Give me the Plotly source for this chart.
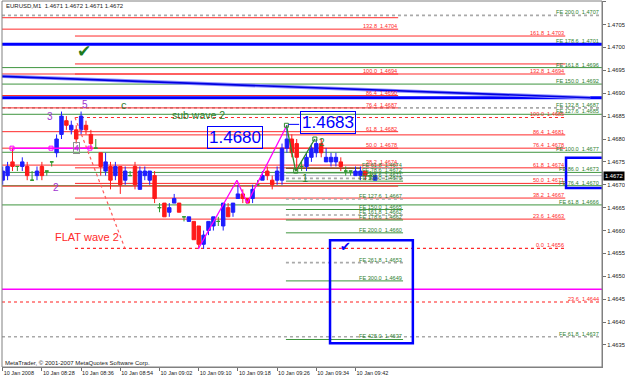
import plotly.graph_objects as go

# ------------------------------------------------------------------ data
bars = list(range(77))
open_ = [1.4671, 1.4672, 1.4675, 1.4674, 1.4674, 1.4674, 1.4671, 1.4672, 1.4674, 1.4673,
         1.4675, 1.4677, 1.4681, 1.4684, 1.4682, 1.4682, 1.4682, 1.4683, 1.4681, 1.4678,
         1.4677, 1.4673, 1.4674, 1.4672, 1.4674, 1.4671, 1.4672, 1.4674, 1.4669, 1.4672,
         1.4671, 1.4672, 1.4665, 1.4666, 1.4664, 1.4666, 1.4666, 1.4663, 1.4662, 1.4662,
         1.4661, 1.4657, 1.4660, 1.4661, 1.4662, 1.4661, 1.4665, 1.4664, 1.4667, 1.4668,
         1.4667, 1.4667, 1.4670, 1.4671, 1.4673, 1.4671, 1.4671, 1.4671, 1.4678, 1.4680,
         1.4679, 1.4674, 1.4674, 1.4676, 1.4677, 1.4679, 1.4675, 1.4675, 1.4675, 1.4675,
         1.4673, 1.4673, 1.4672, 1.4672, 1.4673, 1.4672, 1.4671]
high_ = [1.4674, 1.4675, 1.4678, 1.4674, 1.4676, 1.4675, 1.4673, 1.4674, 1.4675, 1.4673,
         1.4675, 1.4681, 1.4686, 1.4685, 1.4684, 1.4683, 1.4686, 1.4684, 1.4682, 1.4680,
         1.4677, 1.4677, 1.4675, 1.4675, 1.4674, 1.4674, 1.4673, 1.4675, 1.4674, 1.4674,
         1.4673, 1.4673, 1.4666, 1.4666, 1.4666, 1.4668, 1.4666, 1.4663, 1.4663, 1.4662,
         1.4661, 1.4660, 1.4662, 1.4663, 1.4663, 1.4666, 1.4666, 1.4666, 1.4670, 1.4669,
         1.4667, 1.4670, 1.4671, 1.4673, 1.4674, 1.4672, 1.4674, 1.4679, 1.4683, 1.4681,
         1.4680, 1.4675, 1.4677, 1.4679, 1.4680, 1.4680, 1.4678, 1.4677, 1.4677, 1.4676,
         1.4674, 1.4673, 1.4674, 1.4674, 1.4673, 1.4673, 1.4672]
low_ = [1.4670, 1.4671, 1.4673, 1.4673, 1.4673, 1.4671, 1.4671, 1.4671, 1.4671, 1.4672,
        1.4674, 1.4676, 1.4680, 1.4682, 1.4681, 1.4679, 1.4681, 1.4681, 1.4678, 1.4678,
        1.4672, 1.4672, 1.4669, 1.4671, 1.4668, 1.4670, 1.4672, 1.4669, 1.4669, 1.4671,
        1.4670, 1.4666, 1.4664, 1.4663, 1.4663, 1.4666, 1.4664, 1.4662, 1.4662, 1.4658,
        1.4656, 1.4656, 1.4659, 1.4660, 1.4661, 1.4660, 1.4663, 1.4663, 1.4667, 1.4666,
        1.4666, 1.4666, 1.4670, 1.4671, 1.4671, 1.4669, 1.4670, 1.4670, 1.4677, 1.4676,
        1.4673, 1.4673, 1.4673, 1.4675, 1.4676, 1.4676, 1.4675, 1.4674, 1.4674, 1.4673,
        1.4672, 1.4672, 1.4672, 1.4671, 1.4671, 1.4671, 1.4671]
close_ = [1.4673, 1.4674, 1.4674, 1.4674, 1.4675, 1.4672, 1.4671, 1.4673, 1.4672, 1.4673,
          1.4675, 1.4680, 1.4685, 1.4683, 1.4683, 1.4680, 1.4685, 1.4682, 1.4679, 1.4678,
          1.4674, 1.4675, 1.4671, 1.4674, 1.4670, 1.4673, 1.4672, 1.4670, 1.4673, 1.4673,
          1.4673, 1.4667, 1.4665, 1.4663, 1.4665, 1.4667, 1.4664, 1.4663, 1.4663, 1.4658,
          1.4657, 1.4659, 1.4662, 1.4663, 1.4662, 1.4666, 1.4663, 1.4666, 1.4668, 1.4667,
          1.4666, 1.4669, 1.4670, 1.4672, 1.4672, 1.4670, 1.4673, 1.4678, 1.4680, 1.4677,
          1.4676, 1.4674, 1.4676, 1.4678, 1.4679, 1.4677, 1.4676, 1.4676, 1.4676, 1.4674,
          1.4673, 1.4673, 1.4673, 1.4673, 1.4672, 1.4672, 1.4672]

x_tick_bars = [0, 8, 16, 24, 32, 40, 48, 56, 64, 72]
x_tick_text = ["10 Jan 2008", "10 Jan 08:28", "10 Jan 08:36", "10 Jan 08:54", "10 Jan 09:02",
               "10 Jan 09:10", "10 Jan 09:18", "10 Jan 09:26", "10 Jan 09:34", "10 Jan 09:42"]
price_ticks = [1.4635, 1.4640, 1.4645, 1.4650, 1.4655, 1.4660, 1.4665, 1.4670,
               1.4675, 1.4680, 1.4685, 1.4690, 1.4695, 1.4700, 1.4705, 1.4710]
bid_price = 1.4672

# Fibonacci expansion drawn across the whole chart (labels at the right edge)
fe_full_prices = [1.47070, 1.47007, 1.46956, 1.46920, 1.46868, 1.46854,
                  1.46771, 1.46727, 1.46698, 1.46656, 1.46368]
fe_full_labels = ["FE 200.0  1.4707", "FE 178.6  1.4701", "FE 161.8  1.4696", "FE 150.0  1.4692",
                  "FE 132.8  1.4687", "FE 127.6  1.4685", "FE 100.0  1.4677", "FE 86.0  1.4673",
                  "FE 76.4  1.4670", "FE 61.8  1.4666", "FE 61.8  1.4637"]

# Fibonacci retracement A (from the left edge to bar 80.7)
fibA_prices = [1.47065, 1.47040, 1.46942, 1.46895, 1.46868, 1.46816, 1.46780, 1.46743, 1.46697]
fibA_labels = ["", "132.8  1.4704", "100.0  1.4694", "86.4  1.4690", "76.4  1.4687",
               "61.8  1.4682", "50.0  1.4678", "38.2  1.4674", ""]
fibA_span = [-1.0, 80.7]

# Fibonacci retracement B (bar 14.75 to 114.8)
fibB_prices = [1.47025, 1.46964, 1.46942, 1.46847, 1.46809, 1.46780, 1.46737,
               1.46703, 1.46671, 1.46625, 1.46561]
fibB_labels = ["161.8  1.4703", "", "132.8  1.4694", "100.0  1.4685", "86.4  1.4681",
               "76.4  1.4678", "61.8  1.4674", "50.0  1.4671", "38.2  1.4667",
               "23.6  1.4663", "0.0  1.4656"]
fibB_span = [14.75, 114.8]
fibB_anchor_bars = [14.75, 24.95]
fibB_anchor_prices = [1.46847, 1.46561]

# Fibonacci expansion 2 (bar 57.8 to 81.7)
fe2_prices = [1.46736, 1.46726, 1.46714, 1.46708, 1.46669, 1.46646, 1.46634,
              1.46623, 1.46595, 1.46530, 1.46490, 1.46362]
fe2_labels = ["FE 61.8  1.4674", "FE 78.6  1.4672", "FE 88.6  1.4671", "FE 100.0  1.4670",
              "FE 127.6  1.4667", "FE 150.0  1.4665", "FE 161.8  1.4662", "FE 178.6  1.4662",
              "FE 200.0  1.4660", "FE 261.8  1.4653", "FE 300.0  1.4649", "FE 425.0  1.4637"]
fe2_span = [57.8, 81.7]

# other horizontal objects
blue_hlines = [1.47007, 1.46890]
magenta_hline = 1.46472
fibC_price, fibC_label = 1.46444, "23.6  1.4644"
brown_line_price, brown_span = 1.46736, [57.8, 73.1]

# trend line and wave drawings
trend_bars = [-0.5, 119.9]
trend_prices = [1.46937, 1.46890]
flat_bars = [1.9, 9.86, 17.8]
flat_prices = [1.4678, 1.4678, 1.4678]
pink_wave_bars = [39.9, 47.8, 49.9, 58.0]
pink_wave_prices = [1.4656, 1.4671, 1.4666, 1.4683]
green_wave_bars = [57.9, 59.8, 63.7]
green_wave_prices = [1.4683, 1.4673, 1.4680]

# rectangles (bar0, bar1, price_top, price_bottom)
box_big = [66.8, 83.7, 1.46579, 1.46354]
box_small = [114.96, 123.0, 1.46759, 1.46693]

# ------------------------------------------------------------------ styles
RED = "#ff2a2a"
GREEN = "#3f953f"
GREEN_TXT = "#2f7f2f"
GRAY_DOT = "#a9a9a9"
BLUE = "#0000ff"
MAGENTA = "#ff00ff"
PURPLE = "#a035d0"
FONT = "Liberation Sans, Arial, sans-serif"
LBL = 5.6

fe_full_dotted = [True, False, False, False, True, False, False, False, False, False, True]
fibA_dotted = [False] * len(fibA_prices)
fibB_dotted = [False, False, False, True, False, False, False, False, False, False, True]
fe2_dotted = [True, False, True, False, True, False, True, False, False, True, False, False]

X_RANGE = [-0.14, 122.3]
Y_RANGE = [1.463019, 1.471015]

fig = go.Figure()
shapes = []
annotations = []


def hline(price, x0, x1, color, width=1.0, dash="solid", xref="x"):
    shapes.append(dict(type="line", xref=xref, yref="y", x0=x0, x1=x1, y0=price, y1=price,
                       line=dict(color=color, width=width, dash=dash), layer="below"))


def level_label(text, x, price, color, xref="x"):
    if not text:
        return
    annotations.append(dict(text=text, x=x, y=price, xref=xref, yref="y", xanchor="right",
                            yanchor="bottom", showarrow=False, yshift=-1, borderpad=0,
                            font=dict(family=FONT, size=LBL, color=color)))


# fib A
for p, t, d in zip(fibA_prices, fibA_labels, fibA_dotted):
    hline(p, fibA_span[0], fibA_span[1], RED, 1, "dot" if d else "solid")
    level_label(t, fibA_span[1], p, RED)
# fib B
for p, t, d in zip(fibB_prices, fibB_labels, fibB_dotted):
    hline(p, fibB_span[0], fibB_span[1], RED, 1.2 if d else 1, "dot" if d else "solid")
    level_label(t, fibB_span[1], p, RED)
# FE full width
for p, t, d in zip(fe_full_prices, fe_full_labels, fe_full_dotted):
    if d:
        hline(p, 0, 1, GRAY_DOT, 1.6, "dot", xref="paper")
    else:
        hline(p, 0, 1, GREEN, 1, xref="paper")
    level_label(t, 0.997, p, GREEN_TXT, xref="paper")
# FE 2
for p, t, d in zip(fe2_prices, fe2_labels, fe2_dotted):
    if d:
        hline(p, fe2_span[0], fe2_span[1], GRAY_DOT, 1.6, "dot")
    else:
        hline(p, fe2_span[0], fe2_span[1], GREEN, 1)
    level_label(t, fe2_span[1], p, GREEN_TXT)

hline(fibC_price, 0, 1, "#ff6a6a", 1.6, "dot", xref="paper")
level_label(fibC_label, 0.997, fibC_price, RED, xref="paper")
hline(bid_price, 0, 1, "#b4b8c8", 1, xref="paper")
hline(magenta_hline, 0, 1, MAGENTA, 1.5, xref="paper")
for p in blue_hlines:
    hline(p, 0, 1, BLUE, 3, xref="paper")
hline(brown_line_price, brown_span[0], brown_span[1], "#8a5a2a", 1.5)

# rectangles
for b in (box_big, box_small):
    shapes.append(dict(type="rect", xref="x", yref="y", x0=b[0], x1=b[1], y0=b[3], y1=b[2],
                       line=dict(color=BLUE, width=2.5), fillcolor="rgba(0,0,0,0)", layer="above"))

# frame
shapes.append(dict(type="rect", xref="paper", yref="paper", x0=0, x1=1, y0=0, y1=1,
                   line=dict(color="#808080", width=1), layer="above"))

# trend line
fig.add_trace(go.Scatter(x=trend_bars, y=trend_prices, mode="lines",
                         line=dict(color="#8c8cff", width=3.5), hoverinfo="skip", showlegend=False))
fig.add_trace(go.Scatter(x=trend_bars, y=trend_prices, mode="lines",
                         line=dict(color="#0000e0", width=1.6), hoverinfo="skip", showlegend=False))
# fib B anchor diagonal
fig.add_trace(go.Scatter(x=fibB_anchor_bars, y=fibB_anchor_prices, mode="lines",
                         line=dict(color="#ff5a5a", width=1.2, dash="dot"), hoverinfo="skip",
                         showlegend=False))

# candles
kinds = ["up" if c > o else ("down" if c < o else "doji") for o, c in zip(open_, close_)]
for kind, col in (("up", "#1e1eff"), ("down", "#ff1a1a"), ("doji", "#2f9a2f")):
    idx = [i for i, k in enumerate(kinds) if k == kind]
    fig.add_trace(go.Candlestick(
        x=[bars[i] for i in idx], open=[open_[i] for i in idx], high=[high_[i] for i in idx],
        low=[low_[i] for i in idx], close=[close_[i] for i in idx],
        increasing=dict(line=dict(color=col, width=1), fillcolor=col),
        decreasing=dict(line=dict(color=col, width=1), fillcolor=col),
        whiskerwidth=0, hoverinfo="skip", showlegend=False))

# wave drawings
fig.add_trace(go.Scatter(x=flat_bars, y=flat_prices, mode="lines+markers",
                         line=dict(color=MAGENTA, width=1.5),
                         marker=dict(symbol="square-open", size=4, color=MAGENTA),
                         hoverinfo="skip", showlegend=False))
fig.add_trace(go.Scatter(x=pink_wave_bars, y=pink_wave_prices, mode="lines",
                         line=dict(color=MAGENTA, width=1.3), hoverinfo="skip", showlegend=False))
fig.add_trace(go.Scatter(x=green_wave_bars, y=green_wave_prices, mode="lines+markers",
                         line=dict(color="#2d8a2d", width=1.3),
                         marker=dict(symbol="square-open", size=4, color="#2d8a2d"),
                         hoverinfo="skip", showlegend=False))
# connector from the high to the 1.4683 box
fig.add_trace(go.Scatter(x=[58.3, 60.5], y=[1.46832, 1.46832], mode="lines",
                         line=dict(color=BLUE, width=1), hoverinfo="skip", showlegend=False))


def note(text, x, y, size, color, xanchor="center", **kw):
    annotations.append(dict(text=text, x=x, y=y, xref="x", yref="y", xanchor=xanchor,
                            yanchor="middle", showarrow=False,
                            font=dict(family=FONT, size=size, color=color), **kw))


note("3", 9.65, 1.46850, 10, PURPLE)
note("5", 16.8, 1.46875, 10, PURPLE)
note("c", 24.75, 1.46875, 11, GREEN_TXT)
note("sub wave 2", 34.1, 1.46852, 10.5, GREEN_TXT, xanchor="left")
note("4", 14.96, 1.46780, 9, PURPLE, bordercolor="#909090", borderwidth=1, borderpad=0)
note("2", 10.9, 1.46693, 10, PURPLE)
note("FLAT wave 2", 10.3, 1.46586, 11, "#ff2a2a", xanchor="left")
note("1.4680", 47.5, 1.46803, 17, BLUE, bordercolor=BLUE, borderwidth=1, borderpad=1)
note("1.4683", 66.3, 1.46835, 17, BLUE, bordercolor=BLUE, borderwidth=1, borderpad=1)
note("1", 61.7, 1.46715, 11, GREEN_TXT)
note("2", 65.1, 1.46792, 10, GREEN_TXT)
note("✔", 16.6, 1.46992, 17, "#1d7a1d")
note("✔", 69.9, 1.46565, 13, BLUE)

annotations.append(dict(text="EURUSD,M1  1.4671 1.4672 1.4671 1.4672", x=0.003, y=0.985,
                        xref="paper", yref="paper", xanchor="left", yanchor="middle",
                        showarrow=False, font=dict(family=FONT, size=6, color="#202020")))
annotations.append(dict(text="MetaTrader, © 2001-2007 MetaQuotes Software Corp.", x=0.002,
                        y=0.012, xref="paper", yref="paper", xanchor="left", yanchor="middle",
                        showarrow=False, font=dict(family=FONT, size=6, color="#202020")))
annotations.append(dict(text="1.4672", x=1.002, y=bid_price, xref="paper", yref="y",
                        xanchor="left", yanchor="middle", showarrow=False, bgcolor="#000000",
                        borderpad=1, font=dict(family=FONT, size=5.8, color="#ffffff")))

fig.update_layout(
    width=625, height=379, margin=dict(l=2, r=23, t=1, b=12, autoexpand=False),
    paper_bgcolor="white", plot_bgcolor="white", showlegend=False,
    boxgap=0.3, boxgroupgap=0,
    shapes=shapes, annotations=annotations,
    xaxis=dict(range=X_RANGE, tickvals=x_tick_bars, ticktext=x_tick_text, tickangle=0,
               automargin=False,
               ticks="outside", ticklen=3, tickcolor="#707070", ticklabelposition="outside right",
               tickfont=dict(family=FONT, size=5.5, color="#202020"),
               showgrid=False, zeroline=False, showline=True, linecolor="#808080",
               rangeslider=dict(visible=False), fixedrange=True),
    yaxis=dict(range=Y_RANGE, side="right", tickvals=price_ticks, tickformat=".4f",
               automargin=False,
               ticks="outside", ticklen=3, tickcolor="#707070",
               tickfont=dict(family=FONT, size=5.8, color="#202020"),
               showgrid=False, zeroline=False, showline=True, linecolor="#808080",
               fixedrange=True),
)

fig.write_html("out.html")
